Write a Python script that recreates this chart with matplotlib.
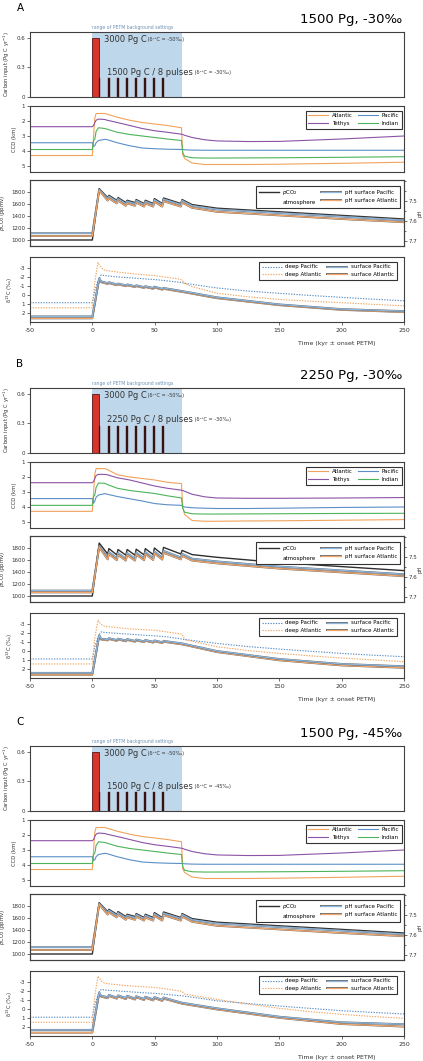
import matplotlib
matplotlib.use("Agg")
import matplotlib.pyplot as plt
import matplotlib.patheffects as pe
from matplotlib.ticker import MultipleLocator
from matplotlib.lines import Line2D

plt.rcParams['font.family'] = ['DejaVu Sans']
plt.rcParams['axes.unicode_minus'] = False

# ---------------- data ----------------
panel_letters = ['A', 'B', 'C']
panel_titles = ['1500 Pg, -30‰', '2250 Pg, -30‰', '1500 Pg, -45‰']
pulse_texts = ['1500 Pg C / 8 pulses', '2250 Pg C / 8 pulses', '1500 Pg C / 8 pulses']
pulse_d13c_texts = [' (δ¹³C = -30‰)', ' (δ¹³C = -30‰)', ' (δ¹³C = -45‰)']

# carbon input (kyr, Pg C / yr)
main_start, main_width, main_rate = 0, 5, 0.6
pulse_starts = [5.0, 12.3, 19.6, 26.9, 34.2, 41.5, 48.8, 56.1]
pulse_rates = [0.19, 0.27, 0.19]
petm_range = (0, 72)

# CCD (km)
t_ccd = [-50, 0, 1, 2, 3, 5, 10, 12, 20, 30, 40, 50, 60, 71.5, 72.5, 74, 80, 90, 100, 125, 150, 200, 250]
ccd_atl_a = [4.3, 4.3, 3.0, 1.8, 1.5, 1.5, 1.5, 1.55, 1.75, 1.95, 2.1, 2.2, 2.3, 2.45, 4.25, 4.5, 4.8, 4.9, 4.9, 4.9, 4.88, 4.82, 4.75]
ccd_teth_a = [2.38, 2.38, 2.3, 2.1, 1.95, 1.87, 1.9, 1.95, 2.1, 2.3, 2.5, 2.65, 2.75, 2.88, 2.9, 2.95, 3.1, 3.25, 3.33, 3.37, 3.36, 3.2, 3.0]
ccd_ind_a = [3.9, 3.9, 3.3, 3.2, 2.7, 2.45, 2.5, 2.55, 2.75, 2.9, 3.0, 3.1, 3.2, 3.3, 4.1, 4.35, 4.45, 4.47, 4.47, 4.46, 4.45, 4.42, 4.38]
ccd_pac_a = [3.45, 3.45, 3.7, 3.65, 3.45, 3.3, 3.22, 3.25, 3.45, 3.65, 3.8, 3.85, 3.88, 3.9, 3.9, 3.92, 3.94, 3.95, 3.95, 3.95, 3.95, 3.95, 3.95]
ccd_atl_b = [4.29, 4.29, 3.0, 1.8, 1.44, 1.44, 1.44, 1.5, 1.85, 2.0, 2.1, 2.2, 2.35, 2.44, 4.0, 4.5, 4.9, 4.95, 4.95, 4.93, 4.92, 4.88, 4.84]
ccd_teth_b = [2.38, 2.38, 2.3, 2.1, 1.9, 1.82, 1.83, 1.85, 2.05, 2.2, 2.4, 2.6, 2.75, 2.88, 2.9, 2.95, 3.15, 3.32, 3.4, 3.42, 3.42, 3.4, 3.37]
ccd_ind_b = [3.89, 3.89, 3.3, 3.2, 2.7, 2.4, 2.42, 2.5, 2.75, 2.9, 3.0, 3.1, 3.25, 3.4, 4.1, 4.35, 4.45, 4.47, 4.47, 4.46, 4.45, 4.43, 4.42]
ccd_pac_b = [3.44, 3.44, 3.75, 3.6, 3.35, 3.2, 3.11, 3.15, 3.3, 3.45, 3.6, 3.77, 3.85, 3.89, 3.95, 4.0, 4.05, 4.08, 4.1, 4.1, 4.08, 4.03, 4.0]

# pCO2 (ppmv) and surface pH
t_co2 = [-50, 0, 5.5, 12.3, 13.3, 19.6, 20.6, 26.9, 27.9, 34.2, 35.2, 41.5, 42.5, 48.8, 49.8, 56.1, 57.1, 71, 72, 80, 100, 150, 200, 250]
co2_a = [1000, 1000, 1856, 1707, 1745, 1662, 1707, 1624, 1662, 1624, 1674, 1608, 1662, 1608, 1690, 1608, 1700, 1608, 1674, 1590, 1530, 1470, 1410, 1350]
ph_pac_a = [7.663, 7.663, 7.444, 7.491, 7.479, 7.504, 7.491, 7.516, 7.504, 7.516, 7.500, 7.520, 7.504, 7.520, 7.496, 7.520, 7.493, 7.520, 7.500, 7.526, 7.544, 7.562, 7.580, 7.598]
ph_atl_a = [7.677, 7.677, 7.449, 7.500, 7.489, 7.514, 7.500, 7.526, 7.514, 7.526, 7.510, 7.530, 7.514, 7.530, 7.506, 7.530, 7.503, 7.530, 7.510, 7.536, 7.556, 7.574, 7.592, 7.608]
co2_b = [1000, 1000, 1883, 1700, 1790, 1685, 1775, 1680, 1775, 1680, 1780, 1685, 1790, 1690, 1800, 1695, 1810, 1700, 1760, 1690, 1645, 1556, 1490, 1423]
ph_pac_b = [7.670, 7.670, 7.447, 7.504, 7.477, 7.508, 7.482, 7.510, 7.482, 7.510, 7.480, 7.508, 7.477, 7.507, 7.474, 7.505, 7.471, 7.504, 7.486, 7.510, 7.524, 7.550, 7.569, 7.588]
ph_atl_b = [7.679, 7.679, 7.453, 7.514, 7.487, 7.518, 7.492, 7.520, 7.492, 7.520, 7.490, 7.518, 7.487, 7.517, 7.484, 7.515, 7.481, 7.514, 7.496, 7.520, 7.534, 7.560, 7.579, 7.598]

# d13C (permil)
t_deep = [-50, 0, 2, 4.5, 7, 10, 20, 30, 40, 50, 60, 70, 72, 74, 80, 100, 125, 150, 175, 200, 225, 250]
deep_pac_a = [0.87, 0.87, -0.5, -1.6, -2.27, -2.2, -2.05, -1.95, -1.85, -1.75, -1.6, -1.45, -1.4, -1.35, -1.2, -0.8, -0.45, -0.19, 0.05, 0.26, 0.47, 0.65]
deep_atl_a = [1.44, 1.44, -1.5, -3.68, -3.1, -2.8, -2.6, -2.45, -2.3, -2.2, -2.0, -1.8, -1.7, -1.3, -0.95, -0.2, 0.2, 0.5, 0.7, 0.87, 1.05, 1.22]
deep_pac_b = [0.9, 0.9, -0.5, -1.6, -2.16, -2.1, -2.0, -1.9, -1.8, -1.72, -1.6, -1.4, -1.34, -1.3, -1.2, -0.86, -0.5, -0.22, 0.03, 0.27, 0.47, 0.64]
deep_atl_b = [1.46, 1.46, -1.5, -3.5, -3.0, -2.8, -2.65, -2.5, -2.42, -2.35, -2.15, -1.95, -1.9, -1.3, -1.1, -0.48, -0.05, 0.27, 0.55, 0.79, 1.0, 1.2]
deep_pac_c = [0.93, 0.93, -0.5, -1.6, -2.22, -2.15, -2.05, -1.95, -1.85, -1.77, -1.65, -1.52, -1.5, -1.45, -1.35, -0.93, -0.62, -0.34, -0.07, 0.19, 0.38, 0.56]
deep_atl_c = [1.5, 1.5, -1.5, -3.72, -3.2, -2.9, -2.75, -2.62, -2.52, -2.44, -2.25, -2.05, -2.0, -1.69, -1.55, -1.09, -0.55, -0.08, 0.3, 0.6, 0.85, 1.05]

t_surf = [-50, 0, 5.5, 7, 12.3, 13.3, 19.6, 20.6, 26.9, 27.9, 34.2, 35.2, 41.5, 42.5, 48.8, 49.8, 56.1, 57.1, 72, 100, 150, 200, 250]
surf_pac_a = [2.42, 2.42, -1.9, -1.55, -1.35, -1.45, -1.2, -1.3, -1.1, -1.2, -1.0, -1.1, -0.9, -1.0, -0.8, -0.95, -0.7, -0.8, -0.45, 0.26, 1.06, 1.59, 1.82]
surf_atl_a = [2.64, 2.64, -1.8, -1.45, -1.25, -1.35, -1.1, -1.2, -1.0, -1.1, -0.9, -1.0, -0.8, -0.9, -0.7, -0.85, -0.6, -0.7, -0.35, 0.36, 1.15, 1.68, 1.93]
surf_pac_b = [2.47, 2.47, -1.79, -1.4, -1.3, -1.45, -1.25, -1.4, -1.2, -1.35, -1.15, -1.3, -1.1, -1.25, -1.05, -1.2, -1.0, -1.15, -0.86, 0.0, 0.9, 1.46, 1.72]
surf_atl_b = [2.69, 2.69, -1.7, -1.3, -1.2, -1.35, -1.15, -1.3, -1.1, -1.25, -1.05, -1.2, -1.0, -1.15, -0.95, -1.1, -0.9, -1.05, -0.75, 0.12, 1.05, 1.63, 1.9]
surf_pac_c = [2.36, 2.36, -1.88, -1.5, -1.35, -1.6, -1.3, -1.55, -1.25, -1.5, -1.2, -1.45, -1.15, -1.4, -1.1, -1.35, -1.05, -1.3, -0.71, -0.08, 0.87, 1.5, 1.72]
surf_atl_c = [2.67, 2.67, -1.78, -1.4, -1.22, -1.47, -1.17, -1.42, -1.12, -1.37, -1.07, -1.32, -1.02, -1.27, -0.97, -1.22, -0.92, -1.17, -0.6, 0.05, 1.0, 1.7, 1.99]

ccd_sets = [(ccd_atl_a, ccd_teth_a, ccd_pac_a, ccd_ind_a),
            (ccd_atl_b, ccd_teth_b, ccd_pac_b, ccd_ind_b),
            (ccd_atl_a, ccd_teth_a, ccd_pac_a, ccd_ind_a)]
co2_sets = [(co2_a, ph_pac_a, ph_atl_a), (co2_b, ph_pac_b, ph_atl_b), (co2_a, ph_pac_a, ph_atl_a)]
d13c_sets = [(deep_pac_a, deep_atl_a, surf_pac_a, surf_atl_a),
             (deep_pac_b, deep_atl_b, surf_pac_b, surf_atl_b),
             (deep_pac_c, deep_atl_c, surf_pac_c, surf_atl_c)]

# ---------------- style ----------------
C_ATL = '#f0a35c'
C_PAC = '#5b8ec6'
C_TETH = '#8b52a6'
C_IND = '#4cb45a'
C_PH_PAC = '#8db6de'
C_PH_ATL = '#f2a66a'
SPINE = '#404040'
SHADE = '#bfd7ea'
edge = [pe.Stroke(linewidth=1.35, foreground='#6a6a6a'), pe.Normal()]

W, H = 423, 1061
X0, XW = 30, 374
fig = plt.figure(figsize=(W / 100, H / 100), dpi=100)


def make_ax(top, bottom):
    ax = fig.add_axes([X0 / W, 1 - bottom / H, XW / W, (bottom - top) / H])
    ax.set_xlim(-50, 250)
    for s in ax.spines.values():
        s.set_color(SPINE)
        s.set_linewidth(0.8)
    ax.tick_params(axis='y', labelsize=4, length=2, width=0.5, pad=1.5, colors='#333333')
    ax.tick_params(axis='x', bottom=False, labelbottom=False)
    return ax


def ylab(ax, text):
    ax.set_ylabel(text, fontsize=3.8, labelpad=3, color='#333333')


def leg(ax, handles, labels, anchor):
    lg = ax.legend(handles, labels, ncol=2, fontsize=4, loc='upper right',
                   bbox_to_anchor=anchor, borderaxespad=0, fancybox=False,
                   edgecolor='#333333', framealpha=1, handlelength=3.6,
                   columnspacing=1.0, handletextpad=0.6, borderpad=0.5,
                   labelspacing=0.45)
    lg.get_frame().set_linewidth(0.8)
    return lg


for i in range(3):
    off = [0, 356, 714][i]

    fig.text(20 / W, 1 - (off + 8) / H, panel_letters[i], fontsize=7.5,
             ha='center', va='center')
    fig.text(402 / W, 1 - (off + 19) / H, panel_titles[i], fontsize=9.5,
             ha='right', va='center')

    # carbon input
    ax = make_ax(off + 31.7, off + 97)
    ax.set_ylim(0, 0.66)
    ax.set_yticks([0, 0.3, 0.6])
    ax.set_yticklabels(['0', '0.3', '0.6'])
    ax.axvspan(petm_range[0], petm_range[1], color=SHADE, lw=0, zorder=0)
    ax.bar([main_start], [main_rate], width=main_width, align='edge',
           color='#d8362d', edgecolor='#5a1818', linewidth=0.6, zorder=2)
    ax.bar(pulse_starts, [pulse_rates[i]] * len(pulse_starts), width=1.5,
           align='edge', color='#2e0f0f', edgecolor='#5e1a1a', linewidth=0.3,
           zorder=3)
    ax.text(0, 1.07, 'range of PETM background settings', fontsize=3.3,
            color='#6f93b5', transform=ax.get_xaxis_transform(),
            ha='left', va='center')
    t1 = ax.text(9, 0.585, '3000 Pg C', fontsize=6, color='#333333',
                 ha='left', va='center', zorder=4)
    ax.annotate(' (δ¹³C = -50‰)', xy=(1, 0.5), xycoords=t1, fontsize=3.6,
                color='#333333', ha='left', va='center', zorder=4)
    t2 = ax.text(11.5, [0.25, 0.34, 0.25][i], pulse_texts[i], fontsize=6,
                 color='#333333', ha='left', va='center', zorder=4)
    ax.annotate(pulse_d13c_texts[i], xy=(1, 0.5), xycoords=t2, fontsize=3.6,
                color='#333333', ha='left', va='center', zorder=4)
    ylab(ax, 'Carbon input (Pg C yr$^{-1}$)')

    # CCD
    ax = make_ax(off + 106, off + 172)
    atl, teth, pac, ind = ccd_sets[i]
    h1, = ax.plot(t_ccd, atl, color=C_ATL, lw=0.8)
    h2, = ax.plot(t_ccd, teth, color=C_TETH, lw=0.8)
    h3, = ax.plot(t_ccd, pac, color=C_PAC, lw=0.8)
    h4, = ax.plot(t_ccd, ind, color=C_IND, lw=0.8)
    ax.set_ylim(5.4, 1)
    ax.set_yticks([1, 2, 3, 4, 5])
    ylab(ax, 'CCD (km)')
    leg(ax, [h1, h2, h3, h4], ['Atlantic', 'Tethys', 'Pacific', 'Indian'],
        (0.994, 0.93))

    # pCO2 / pH
    ax = make_ax(off + 180, off + 246)
    co2, php, pha = co2_sets[i]
    hc, = ax.plot(t_co2, co2, color='#2f2f2f', lw=1.0, zorder=3)
    ax.set_ylim(900, 2000)
    ax.set_yticks([1000, 1200, 1400, 1600, 1800])
    ylab(ax, '$p$CO$_2$ (ppmv)')
    ax2 = ax.twinx()
    for s in ax2.spines.values():
        s.set_color(SPINE)
        s.set_linewidth(0.8)
    hp, = ax2.plot(t_co2, php, color=C_PH_PAC, lw=0.9, path_effects=edge)
    ha, = ax2.plot(t_co2, pha, color=C_PH_ATL, lw=0.9, path_effects=edge)
    ax2.set_ylim(7.727, 7.397)
    ax2.set_yticks([7.5, 7.6, 7.7])
    ax2.yaxis.set_minor_locator(MultipleLocator(0.05))
    ax2.tick_params(axis='y', which='both', labelsize=4, length=2, width=0.5,
                    pad=1.5, colors='#333333')
    ax2.tick_params(axis='y', which='minor', length=1.5)
    ax2.set_ylabel('pH', fontsize=3.8, color='#333333')
    ax2.yaxis.set_label_coords(1.036, 0.5)
    blank = Line2D([], [], color='none')
    leg(ax2, [hc, blank, hp, ha],
        ['$p$CO$_2$', 'atmosphere', 'pH surface Pacific', 'pH surface Atlantic'],
        (0.989, 0.915))

    # d13C
    ax = make_ax(off + 257, off + 322)
    dp, da, sp, sa = d13c_sets[i]
    g1, = ax.plot(t_deep, dp, color=C_PAC, lw=0.8, ls=(0, (1.2, 1.2)))
    g2, = ax.plot(t_deep, da, color=C_ATL, lw=0.8, ls=(0, (1.2, 1.2)))
    g4, = ax.plot(t_surf, sa, color=C_PH_ATL, lw=0.9, path_effects=edge)
    g3, = ax.plot(t_surf, sp, color=C_PH_PAC, lw=0.9, path_effects=edge)
    ax.set_ylim(3.05, -4.3)
    ax.set_yticks([-3, -2, -1, 0, 1, 2])
    ylab(ax, 'δ$^{13}$C (‰)')
    ax.set_xticks([-50, 0, 50, 100, 150, 200, 250])
    ax.tick_params(axis='x', bottom=True, labelbottom=True, labelsize=4.5,
                   length=2, width=0.5, pad=2, colors='#333333')
    leg(ax, [g1, g2, g3, g4],
        ['deep Pacific', 'deep Atlantic', 'surface Pacific', 'surface Atlantic'],
        (0.98, 0.928))
    fig.text(337 / W, 1 - (off + 343) / H, 'Time (kyr ± onset PETM)',
             fontsize=4.5, ha='center', va='center', color='#333333')

fig.savefig('out.png', dpi=100)
